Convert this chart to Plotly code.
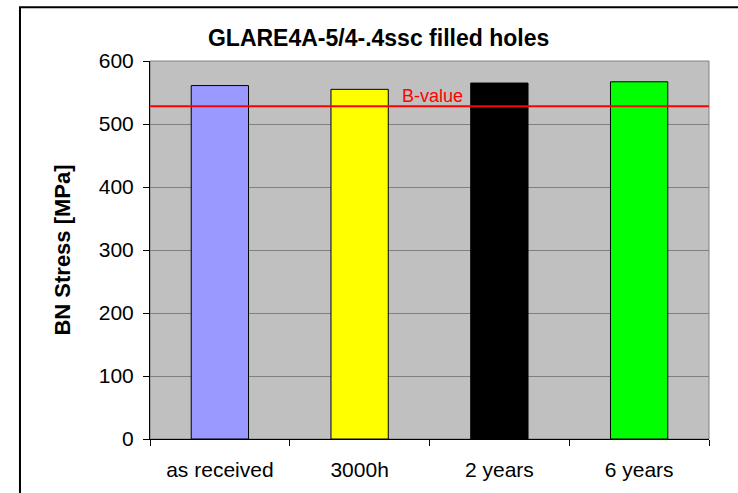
import plotly.graph_objects as go

# data
categories = ["as received", "3000h", "2 years", "6 years"]
stress = [561, 555, 565, 567]
bar_colors = ["#9999FF", "#FFFF00", "#000000", "#00FF00"]
b_value = 528
y_ticks = [0, 100, 200, 300, 400, 500, 600]

fig = go.Figure()

fig.add_trace(go.Bar(
    x=categories, y=stress,
    marker=dict(color=bar_colors, line=dict(color="#000000", width=1)),
    width=0.41,
    showlegend=False,
))

# B-value reference line
fig.add_hline(y=b_value, line=dict(color="#FF0000", width=2), layer="above")
fig.add_annotation(x=1.52, y=b_value, xref="x", yref="y", text="B-value",
                   showarrow=False, yanchor="bottom", yshift=-2,
                   font=dict(color="#FF0000", size=18, family="Liberation Sans"))

# plot area frame
fig.add_shape(type="rect", xref="paper", yref="paper", x0=0, y0=0, x1=1, y1=1,
              line=dict(color="#808080", width=1), layer="below")
# outer chart border
fig.add_shape(type="rect", xref="paper", yref="paper", x0=-0.2326, y0=-0.4, x1=1.2, y1=1.142,
              line=dict(color="#000000", width=2))

fig.update_layout(
    width=738, height=493,
    margin=dict(l=150, r=29, t=61, b=52),
    paper_bgcolor="white",
    plot_bgcolor="#C0C0C0",
    font=dict(family="Liberation Sans", size=21, color="black"),
    title=dict(text="<b>GLARE4A-5/4-.4ssc filled holes</b>", x=0.513, xanchor="center",
               y=0.923, yanchor="middle", font=dict(size=23)),
    xaxis=dict(
        range=[-0.5, 3.5], tickson="boundaries", ticks="outside", ticklen=6,
        tickcolor="black", showline=True, linecolor="black", linewidth=1,
        showgrid=False, ticklabelstandoff=12,
    ),
    yaxis=dict(
        range=[0, 600], tickvals=y_ticks, ticks="outside", ticklen=6,
        tickcolor="black", showline=True, linecolor="black", linewidth=1,
        showgrid=True, gridcolor="#808080", gridwidth=1, zeroline=False,
        ticklabelstandoff=5,
        title=dict(text="<b>BN Stress [MPa]</b>", standoff=22, font=dict(size=22)),
    ),
)

# page has a default body margin that shifts the figure; remove it
fig.write_html("out.html", config={"displayModeBar": False},
               post_script="document.body.style.margin='0';")
